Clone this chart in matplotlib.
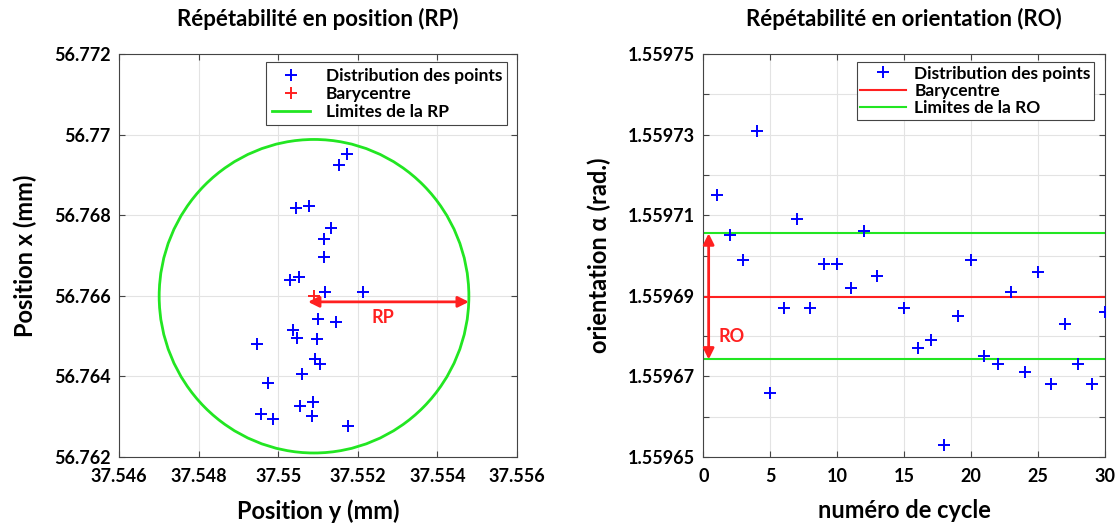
import matplotlib
matplotlib.use("Agg")
import matplotlib.pyplot as plt
from matplotlib.ticker import FixedLocator, FuncFormatter
from matplotlib.patches import Circle

plt.rcParams['font.family'] = ['Lato', 'DejaVu Sans']
plt.rcParams['font.weight'] = 'bold'

# ---- Left chart data: positions (y, x) in mm ----
pos_y = [37.55172, 37.55153, 37.55044, 37.55078, 37.55132, 37.55114, 37.55114,
         37.55029, 37.55053, 37.55117, 37.55213, 37.55101, 37.55144, 37.55036,
         37.55048, 37.55097, 37.54947, 37.55092, 37.55104, 37.55059, 37.54974,
         37.55054, 37.55088, 37.54956, 37.54987, 37.55086, 37.55176]
pos_x = [56.76952, 56.76925, 56.76818, 56.76822, 56.76769, 56.76740, 56.76696,
         56.76639, 56.76647, 56.76609, 56.76609, 56.76543, 56.76535, 56.76515,
         56.76496, 56.76493, 56.76480, 56.76442, 56.76430, 56.76405, 56.76384,
         56.76326, 56.76337, 56.76306, 56.76295, 56.76301, 56.76276]
bary_y = 37.55090
bary_x = 56.76599
rp_radius = 0.00389

left_xticks = [37.546, 37.548, 37.550, 37.552, 37.554, 37.556]
left_xlabels = ['37.546', '37.548', '37.55', '37.552', '37.554', '37.556']
left_yticks = [56.762, 56.764, 56.766, 56.768, 56.770, 56.772]
left_ylabels = ['56.762', '56.764', '56.766', '56.768', '56.77', '56.772']

# ---- Right chart data: orientation per cycle ----
cycles = [1, 2, 3, 4, 5, 6, 7, 8, 9, 10, 11, 12, 13, 15, 16, 17, 18, 19, 20,
          21, 22, 23, 24, 25, 26, 27, 28, 29, 30]
orient = [1.559715, 1.559705, 1.559699, 1.559731, 1.559666, 1.559687, 1.559709,
          1.559687, 1.559698, 1.559698, 1.559692, 1.559706, 1.559695, 1.559687,
          1.559677, 1.559679, 1.559653, 1.559685, 1.559699, 1.559675, 1.559673,
          1.559691, 1.559671, 1.559696, 1.559668, 1.559683, 1.559673, 1.559668,
          1.559686]
bary_o = 1.5596898
ro_upper = 1.5597055
ro_lower = 1.5596742

right_xticks = [0, 5, 10, 15, 20, 25, 30]
right_yticks = [1.55965 + 0.00001 * i for i in range(11)]

BLUE = '#0000ff'
RED = '#ff2020'
GREEN = '#22e622'
GRID = '#e3e3e3'

fig = plt.figure(figsize=(11.16, 5.25), dpi=100)
ax1 = fig.add_axes([0.1066, 0.1295, 0.3567, 0.7676])
ax2 = fig.add_axes([0.6302, 0.1295, 0.3599, 0.7676])

def style(ax):
    ax.grid(True, color=GRID, lw=0.8)
    ax.set_axisbelow(True)
    ax.tick_params(direction='in', top=True, right=True, length=4,
                   labelsize=13, color='#444444', width=0.8)
    ax.tick_params(axis='x', pad=8)
    ax.tick_params(axis='y', pad=6)
    for s in ax.spines.values():
        s.set_color('#444444')
        s.set_linewidth(0.8)
    for lab in ax.get_xticklabels() + ax.get_yticklabels():
        lab.set_fontweight('bold')

# ---- Left ----
circ = Circle((bary_y, bary_x), rp_radius, fill=False, ec=GREEN, lw=2, zorder=2)
ax1.add_patch(circ)
ax1.plot([], [], color=GREEN, lw=2, label='Limites de la RP')
ax1.plot(pos_y, pos_x, '+', color=BLUE, ms=9, mew=1.4, ls='none',
         label='Distribution des points', zorder=3)
ax1.plot([bary_y], [bary_x], '+', color=RED, ms=9, mew=1.4, ls='none',
         label='Barycentre', zorder=3)
ax1.annotate('', xy=(bary_y + rp_radius, bary_x - 0.00014),
             xytext=(bary_y - 0.00015, bary_x - 0.00014),
             arrowprops=dict(arrowstyle='<|-|>', color=RED, lw=2,
                             mutation_scale=16, shrinkA=0, shrinkB=0), zorder=4)
ax1.text(37.55262, 56.76546, 'RP', color=RED, fontsize=13, fontweight='bold',
         ha='center', va='center')
ax1.set_xlim(37.546, 37.556)
ax1.set_ylim(56.762, 56.772)
ax1.set_xticks(left_xticks)
ax1.set_xticklabels(left_xlabels)
ax1.set_yticks(left_yticks)
ax1.set_yticklabels(left_ylabels)
style(ax1)
h, l = ax1.get_legend_handles_labels()
order = [1, 2, 0]
leg1 = ax1.legend([h[i] for i in order], [l[i] for i in order], loc='upper right',
                  bbox_to_anchor=(0.975, 0.979), borderaxespad=0, fontsize=12.5,
                  fancybox=False, edgecolor='#444444', framealpha=1, borderpad=0.3,
                  labelspacing=0.12, handlelength=2.2, handletextpad=0.9)
leg1.get_frame().set_linewidth(0.8)
for t in leg1.get_texts():
    t.set_fontweight('bold')
ax1.set_title('Répétabilité en position (RP)', fontsize=16, fontweight='bold', pad=20)
ax1.set_xlabel('Position y (mm)', fontsize=17, fontweight='bold', labelpad=10)
ax1.set_ylabel('Position x (mm)', fontsize=17, fontweight='bold', labelpad=12)

# ---- Right ----
ax2.plot(cycles, orient, '+', color=BLUE, ms=9, mew=1.4, ls='none',
         label='Distribution des points', zorder=3)
ax2.axhline(bary_o, color=RED, lw=1.5, label='Barycentre', zorder=2)
ax2.axhline(ro_upper, color=GREEN, lw=1.5, label='Limites de la RO', zorder=2)
ax2.axhline(ro_lower, color=GREEN, lw=1.5, zorder=2)
ax2.annotate('', xy=(0.4, ro_upper), xytext=(0.4, ro_lower),
             arrowprops=dict(arrowstyle='<|-|>', color=RED, lw=2,
                             mutation_scale=16, shrinkA=0, shrinkB=0), zorder=4)
ax2.text(2.1, 1.55968, 'RO', color=RED, fontsize=13, fontweight='bold',
         ha='center', va='center')
ax2.set_xlim(0, 30)
ax2.set_ylim(1.55965, 1.55975)
ax2.set_xticks(right_xticks)
ax2.yaxis.set_major_locator(FixedLocator(right_yticks))
ax2.yaxis.set_major_formatter(FuncFormatter(
    lambda v, p: ('%.5f' % v) if round((v - 1.55965) / 0.00001) % 2 == 0 else ''))
style(ax2)
leg2 = ax2.legend(loc='upper right', bbox_to_anchor=(0.973, 0.98), borderaxespad=0,
                  fontsize=12.5, fancybox=False, edgecolor='#444444', framealpha=1,
                  borderpad=0.2, labelspacing=0.08, handlelength=2.6, handletextpad=0.5)
leg2.get_frame().set_linewidth(0.8)
for t in leg2.get_texts():
    t.set_fontweight('bold')
ax2.set_title('Répétabilité en orientation (RO)', fontsize=16, fontweight='bold', pad=20)
ax2.set_xlabel('numéro de cycle', fontsize=17, fontweight='bold', labelpad=10)
ax2.set_ylabel('orientation α (rad.)', fontsize=17, fontweight='bold', labelpad=12)

fig.savefig('out.png', dpi=100)
